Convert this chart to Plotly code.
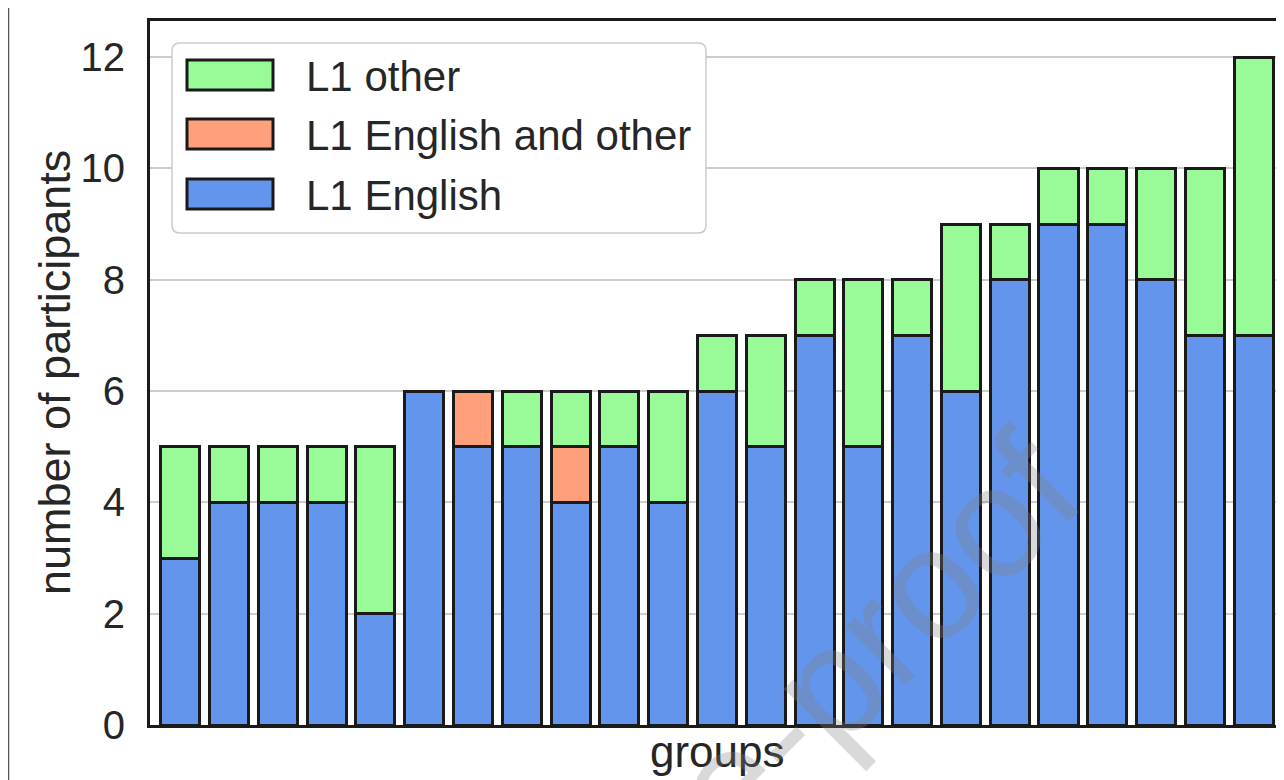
import plotly.graph_objects as go

# ---- data ----
groups = list(range(23))
l1_english = [3, 4, 4, 4, 2, 6, 5, 5, 4, 5, 4, 6, 5, 7, 5, 7, 6, 8, 9, 9, 8, 7, 7]
l1_english_other = [0, 0, 0, 0, 0, 0, 1, 0, 1, 0, 0, 0, 0, 0, 0, 0, 0, 0, 0, 0, 0, 0, 0]
l1_other = [2, 1, 1, 1, 3, 0, 0, 1, 1, 1, 2, 1, 2, 1, 3, 1, 3, 1, 1, 1, 2, 3, 5]
series_names = ["L1 English", "L1 English and other", "L1 other"]
y_ticks = [0, 2, 4, 6, 8, 10, 12]
x_title = "groups"
y_title = "number of participants"

# ---- style ----
OFF = 8  # default page body margin
W, H = 1276, 772
ML, MR, MT, MB = 142, 3, 13, 55
PW, PH = W - ML - MR, H - MT - MB
EDGE = "#1a1a1a"
TXT = "#262626"
FONT = "Liberation Sans, Arial, sans-serif"
colors = {"L1 English": "#6495ED", "L1 English and other": "#FFA07A", "L1 other": "#98FB98"}


def px_x(px):
    return (px - OFF - ML) / PW


def px_y(py):
    return (H - MB - (py - OFF)) / PH


def nz(v):
    return [x if x != 0 else None for x in v]


fig = go.Figure()
for name, vals in zip(series_names, [l1_english, l1_english_other, l1_other]):
    fig.add_trace(go.Bar(
        x=groups, y=nz(vals), name=name, width=0.8,
        marker=dict(color=colors[name], line=dict(color=EDGE, width=3)),
        showlegend=False,
    ))

fig.update_layout(
    width=W, height=H,
    margin=dict(l=ML, r=MR, t=MT, b=MB, autoexpand=False),
    barmode="stack",
    paper_bgcolor="white", plot_bgcolor="white",
    font=dict(family=FONT, size=41, color=TXT),
)
fig.update_xaxes(
    range=[-0.62, 22.56], showticklabels=False, ticks="", showgrid=False, zeroline=False,
    showline=True, linewidth=3, linecolor=EDGE, mirror=True,
    automargin=False,
)
fig.update_yaxes(
    range=[0, 12.65], tickvals=y_ticks, ticktext=[str(v) for v in y_ticks],
    showgrid=True, gridcolor="#cccccc", gridwidth=1.5, zeroline=False,
    showline=True, linewidth=3, linecolor=EDGE, mirror=True,
    ticks="", ticklabelstandoff=14, tickfont=dict(size=40, color=TXT),
    automargin=False,
)

shapes = []
annotations = []

# axis titles
annotations.append(dict(text=y_title, xref="paper", yref="paper", x=px_x(54), y=px_y(373),
                        xanchor="center", yanchor="middle", textangle=-90, showarrow=False,
                        font=dict(size=45, color=TXT, family=FONT)))
annotations.append(dict(text=x_title, xref="paper", yref="paper", x=px_x(717), y=px_y(751),
                        xanchor="center", yanchor="middle", showarrow=False,
                        font=dict(size=44, color=TXT, family=FONT)))

# page-edge vertical line on the left
shapes.append(dict(type="line", xref="paper", yref="paper",
                   x0=px_x(8.5), x1=px_x(8.5), y0=px_y(8), y1=px_y(790),
                   line=dict(color="#555555", width=1.5)))

# manual legend box (rounded)
lx0, lx1, ly0, ly1, r = 172, 706, 43, 233, 8
path = (f"M {px_x(lx0 + r)} {px_y(ly0)} L {px_x(lx1 - r)} {px_y(ly0)} "
        f"Q {px_x(lx1)} {px_y(ly0)} {px_x(lx1)} {px_y(ly0 + r)} "
        f"L {px_x(lx1)} {px_y(ly1 - r)} Q {px_x(lx1)} {px_y(ly1)} {px_x(lx1 - r)} {px_y(ly1)} "
        f"L {px_x(lx0 + r)} {px_y(ly1)} Q {px_x(lx0)} {px_y(ly1)} {px_x(lx0)} {px_y(ly1 - r)} "
        f"L {px_x(lx0)} {px_y(ly0 + r)} Q {px_x(lx0)} {px_y(ly0)} {px_x(lx0 + r)} {px_y(ly0)} Z")
shapes.append(dict(type="path", xref="paper", yref="paper", path=path,
                   fillcolor="white", line=dict(color="#cccccc", width=1.5), layer="above"))

legend_order = ["L1 other", "L1 English and other", "L1 English"]
row_y = [75, 134, 194]
for name, cy in zip(legend_order, row_y):
    shapes.append(dict(type="rect", xref="paper", yref="paper",
                       x0=px_x(187), x1=px_x(273), y0=px_y(cy - 15), y1=px_y(cy + 15),
                       fillcolor=colors[name], line=dict(color=EDGE, width=3), layer="above"))
    annotations.append(dict(text=name, xref="paper", yref="paper",
                            x=px_x(304), y=px_y(cy + 1), xanchor="left", yanchor="middle",
                            showarrow=False, font=dict(size=42, color=TXT, family=FONT)))

# watermark
annotations.append(dict(text="Journal Pre-proof", xref="paper", yref="paper",
                        x=px_x(620), y=px_y(893), xanchor="center", yanchor="middle",
                        showarrow=False, textangle=-45,
                        font=dict(size=158, color="rgba(128,128,128,0.3)", family=FONT)))

fig.update_layout(shapes=shapes, annotations=annotations)
fig.write_html("out.html")
